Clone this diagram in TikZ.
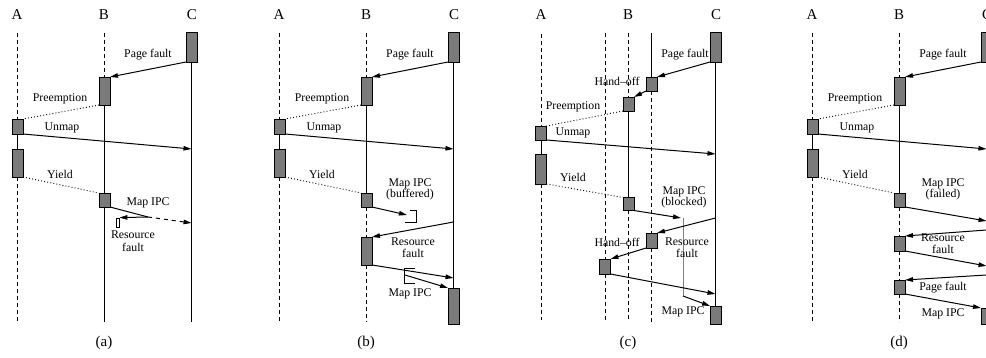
\documentclass[tikz,border=0pt]{standalone}
\usepackage{fontspec}
\setmainfont{Liberation Serif}
\usetikzlibrary{arrows.meta}
\definecolor{boxgray}{RGB}{122,122,122}
\tikzset{
 box/.style={draw=black, fill=boxgray, line width=0.9pt, minimum width=11pt, inner sep=0pt, outer sep=0pt},
 lbl/.style={font=\fontsize{11.8}{13}\selectfont, inner sep=0pt},
 hdr/.style={font=\fontsize{15}{17}\selectfont, inner sep=0pt},
 msg/.style={draw, line width=1pt, -{Triangle[length=8pt,width=4.5pt]}},
 life/.style={line width=0.9pt},
 lifedash/.style={line width=0.9pt, dash pattern=on 4pt off 3pt},
 ctl/.style={line width=0.9pt, dash pattern=on 0.9pt off 2.2pt},
 brk/.style={line width=0.8pt},
}
\newcommand{\commontop}{%
 \node[hdr] (hA) at (17,15) {A};
 \node[hdr] (hB) at (104,15) {B};
 \node[hdr] (hC) at (192,15) {C};
 \node[box, minimum height=30pt] (C1) at (191.5,47) {};
 \node[box, minimum height=28pt] (B1) at (104.5,91) {};
 \node[box, minimum height=15pt] (A1) at (17.5,126.5) {};
 \node[box, minimum height=28pt] (A2) at (17.5,163) {};
 \node[box, minimum height=14pt] (B2) at (104.5,200) {};
 \coordinate (Atop) at (17.5,33);
 \coordinate (Abot) at (17.5,322);
 \coordinate (Btop) at (104.5,33);
 \coordinate (Bbot) at (104.5,322);
 \coordinate (Cun) at (191.5,149);
 \draw[lifedash] (Atop) -- (A1.north);
 \draw[life] (A1.south) -- (A2.north);
 \draw[lifedash] (A2.south) -- (Abot);
 \draw[lifedash] (Btop) -- (B1.north);
 \draw[life] (B1.south) -- (B2.north);
 \draw[msg] (C1.south west) -- (B1.north east);
 \draw[ctl] (B1.south west) -- (A1.north east);
 \draw[msg] (A1.south east) -- (Cun);
 \draw[ctl] (A2.south east) -- (B2.north west);
 \node[lbl] (lPF) at (148,55) {Page fault};
 \node[lbl] (lPre) at (60,99) {Preemption};
 \node[lbl] (lUn) at (62,128) {Unmap};
 \node[lbl] (lY) at (60,174) {Yield};
}
\begin{document}
\begin{tikzpicture}[x=1pt, y=-1pt]
\useasboundingbox (0,0) rectangle (986,358);
\clip (0,0) rectangle (986,358);

% ---------------- (a)
\begin{scope}[name prefix=a-]
 \commontop
 \node[draw, fill=white, line width=0.8pt, minimum width=3pt, minimum height=9pt, inner sep=0pt] (RF) at (117.5,222.5) {};
 \coordinate (Cbot) at (191.5,322);
 \coordinate (K) at (148,217);
 \coordinate (Cm) at (191.5,223);
 \draw[life] (B2.south) -- (Bbot);
 \draw[life] (C1.south) -- (Cbot);
 \draw[line width=1pt] (B2.south east) -- (K);
 \draw[msg] (K) -- (RF.north east);
 \draw[msg, dash pattern=on 4pt off 4pt] (K) -- (Cm);
 \node[lbl] (lM) at (148,203) {Map IPC};
 \node[lbl] (lR) at (133,235) {Resource};
 \node[lbl] (lF) at (133,247) {fault};
 \node[hdr] (cap) at (104,343) {(a)};
\end{scope}

% ---------------- (b)
\begin{scope}[xshift=262pt, name prefix=b-]
 \commontop
 \node[box, minimum height=28pt] (B3) at (104.5,251) {};
 \node[box, minimum height=36pt] (C2) at (191.5,306) {};
 \draw[lifedash] (B2.south) -- (B3.north);
 \draw[lifedash] (B3.south) -- (Bbot);
 \draw[life] (C1.south) -- (C2.north);
 \coordinate (P1) at (145,215);
 \draw[msg] (B2.south east) -- (P1);
 \draw[brk] (148,210) -- (154,210) -- (154,222) -- (143,222);
 \coordinate (Crf) at (191.5,222);
 \draw[msg] (Crf) -- (B3.north east);
 \coordinate (Cm2) at (191.5,278);
 \draw[msg] (B3.south east) -- (Cm2);
 \draw[brk] (153,268) -- (142,268) -- (142,283) -- (153,283);
 \coordinate (Q) at (143,275);
 \draw[msg] (Q) -- (C2.north west);
 \node[lbl] (lM) at (148,184) {Map IPC};
 \node[lbl] (lBuf) at (148,195) {(buffered)};
 \node[lbl] (lR) at (151,242) {Resource};
 \node[lbl] (lF) at (151,253) {fault};
 \node[lbl] (lM2) at (148,294) {Map IPC};
 \node[hdr] (cap) at (104,343) {(b)};
\end{scope}

% ---------------- (c)
\begin{scope}[name prefix=c-]
 \node[hdr] (hA) at (541,15) {A};
 \node[hdr] (hB) at (628,15) {B};
 \node[hdr] (hC) at (716,15) {C};
 \node[box, minimum height=30pt] (C1) at (715.5,47) {};
 \node[box, minimum height=14pt] (H1) at (651.5,84) {};
 \node[box, minimum height=14pt] (B1) at (628.5,104) {};
 \node[box, minimum height=14pt] (A1) at (541,133) {};
 \node[box, minimum height=30pt] (A2) at (541,169) {};
 \node[box, minimum height=13pt] (B2) at (628.5,204) {};
 \node[box, minimum height=15pt] (H2) at (651.5,240.5) {};
 \node[box, minimum height=15pt] (L3) at (605,266.5) {};
 \node[box, minimum height=18pt] (C2) at (715.5,315) {};
 \coordinate (Atop) at (541,34);
 \coordinate (Abot) at (541,320);
 \coordinate (Ltop) at (605,33);
 \coordinate (Lbot) at (605,322);
 \coordinate (Btop) at (628.5,33);
 \coordinate (Bbot) at (628.5,322);
 \coordinate (Htop) at (651.5,33);
 \coordinate (Hbot) at (651.5,322);
 \draw[lifedash] (Atop) -- (A1.north);
 \draw[life] (A1.south) -- (A2.north);
 \draw[lifedash] (A2.south) -- (Abot);
 \draw[lifedash] (Ltop) -- (L3.north);
 \draw[lifedash] (L3.south) -- (Lbot);
 \draw[lifedash] (Btop) -- (B1.north);
 \draw[life] (B1.south) -- (B2.north);
 \draw[lifedash] (B2.south) -- (Bbot);
 \draw[life] (Htop) -- (H1.north);
 \draw[lifedash] (H1.south) -- (H2.north);
 \draw[lifedash] (H2.south) -- (Hbot);
 \draw[life] (C1.south) -- (C2.north);
 \draw[msg] (C1.south west) -- (H1.north east);
 \draw[msg] (H1.south west) -- (B1.north east);
 \draw[ctl] (B1.south west) -- (A1.north east);
 \coordinate (Cun) at (715.5,154);
 \draw[msg] (A1.south east) -- (Cun);
 \draw[ctl] (A2.south east) -- (B2.north west);
 \coordinate (M1) at (681,218);
 \coordinate (V1) at (683,218);
 \coordinate (V2) at (683,296);
 \draw[msg] (B2.south east) -- (M1);
 \draw[line width=0.6pt, gray] (V1) -- (V2);
 \draw[msg] (V2) -- (C2.north west);
 \coordinate (Crf) at (715.5,218);
 \draw[msg] (Crf) -- (H2.north east);
 \draw[msg] (H2.south west) -- (L3.north east);
 \coordinate (Cl) at (715.5,294);
 \draw[msg] (L3.south east) -- (Cl);
 \node[lbl] (lPF) at (685,55) {Page fault};
 \node[lbl] (lHO) at (617,81) {Hand--off};
 \node[lbl] (lPre) at (573,107) {Preemption};
 \node[lbl] (lUn) at (573,133) {Unmap};
 \node[lbl] (lY) at (573,177) {Yield};
 \node[lbl] (lM) at (684,192) {Map IPC};
 \node[lbl] (lBl) at (684,203) {(blocked)};
 \node[lbl] (lR) at (687,242) {Resource};
 \node[lbl] (lF) at (687,253) {fault};
 \node[lbl] (lHO2) at (617,242) {Hand--off};
 \node[lbl] (lM2) at (683,312) {Map IPC};
 \node[hdr] (cap) at (628,343) {(c)};
\end{scope}

% ---------------- (d)
\begin{scope}[xshift=795pt, name prefix=d-]
 \commontop
 \node[box, minimum height=15pt] (B3) at (104.5,243.5) {};
 \node[box, minimum height=14pt] (B4) at (104.5,287) {};
 \node[box, minimum height=16pt] (C2) at (191.5,316) {};
 \draw[lifedash] (B2.south) -- (B3.north);
 \draw[lifedash] (B3.south) -- (B4.north);
 \draw[lifedash] (B4.south) -- (Bbot);
 \draw[life] (C1.south) -- (C2.north);
 \coordinate (c1) at (191.5,221);
 \coordinate (c2) at (191.5,230);
 \coordinate (c3) at (191.5,266);
 \coordinate (c4) at (191.5,275);
 \draw[msg] (B2.south east) -- (c1);
 \draw[msg] (c2) -- (B3.north east);
 \draw[msg] (B3.south east) -- (c3);
 \draw[msg] (c4) -- (B4.north east);
 \draw[msg] (B4.south east) -- (C2.north west);
 \node[lbl] (lM) at (148,184) {Map IPC};
 \node[lbl] (lFa) at (148,195) {(failed)};
 \node[lbl] (lR) at (148,238) {Resource};
 \node[lbl] (lF) at (148,249) {fault};
 \node[lbl] (lPF2) at (148,288) {Page fault};
 \node[lbl] (lM2) at (148,314) {Map IPC};
 \node[hdr] (cap) at (104,343) {(d)};
\end{scope}
\end{tikzpicture}
\end{document}
